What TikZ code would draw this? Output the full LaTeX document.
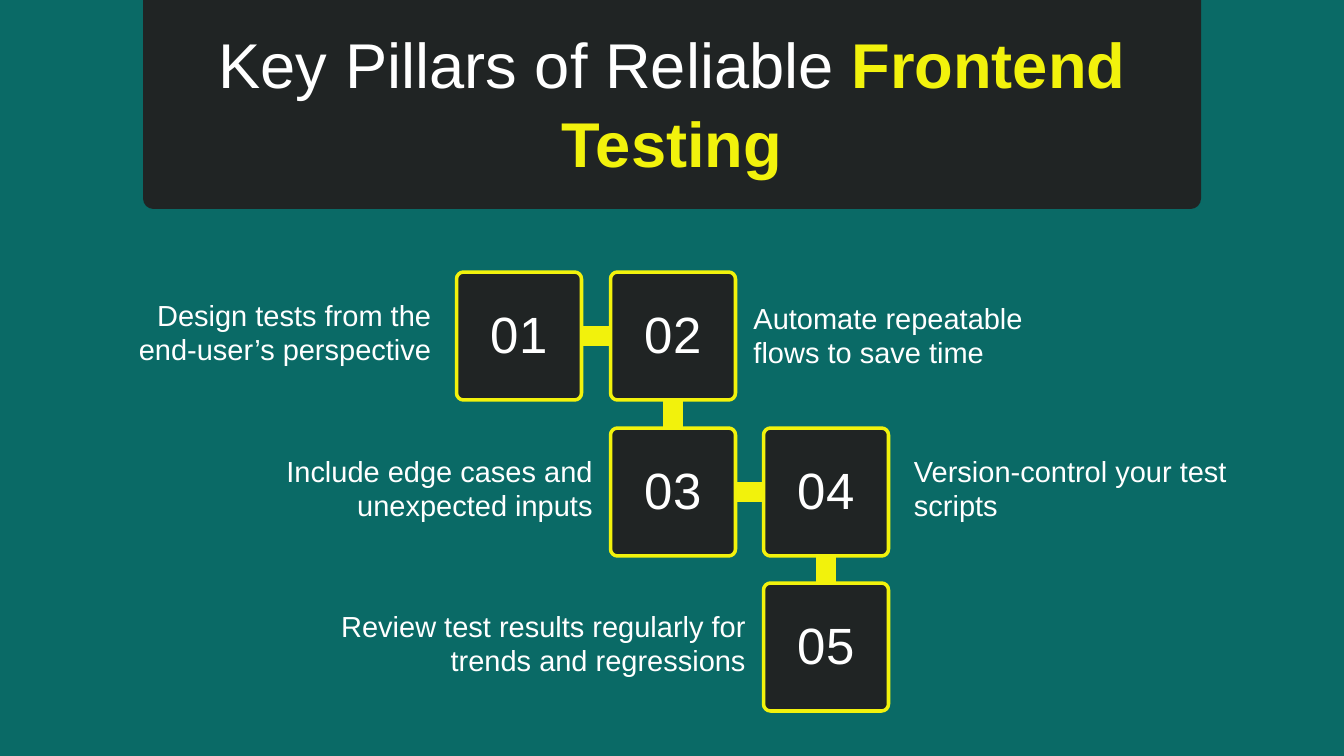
\documentclass[tikz,border=0pt]{standalone}
\usepackage{fontspec}
\setmainfont{Liberation Sans}
\usepackage{xcolor}
\usetikzlibrary{positioning,calc}
\definecolor{teal_bg}{HTML}{0A6A66}
\definecolor{dark_box}{HTML}{202424}
\definecolor{pillar_yellow}{HTML}{F2F20C}

\begin{document}
\begin{tikzpicture}[
    x=0.02cm, y=-0.02cm,
    step_box/.style={rectangle, draw=pillar_yellow, fill=dark_box, line width=2pt, rounded corners=4pt, minimum width=2.5cm, minimum height=2.56cm, font=\fontsize{29}{32}\selectfont, text=white},
    link_bar/.style={draw=pillar_yellow, line width=0.4cm},
    left_text/.style={anchor=east, align=right, text=white, font=\fontsize{16.5}{19}\selectfont},
    right_text/.style={anchor=west, align=left, text=white, font=\fontsize{16.5}{19}\selectfont}
]

% Background
\fill[teal_bg] (0,0) rectangle (1344,756);
\useasboundingbox (0,0) rectangle (1344,756);

% Title
\fill[dark_box, rounded corners=6pt] (143,-20) rectangle (1201,209);
\node[text=white, font=\fontsize{36}{45}\selectfont, align=center] (title) at (672,112)
    {Key Pillars of Reliable \textcolor{pillar_yellow}{\bfseries Frontend}\\\textcolor{pillar_yellow}{\bfseries Testing}};

% Connectors (behind boxes)
\coordinate (c1) at (519,336);
\coordinate (c2) at (673,336);
\coordinate (c3) at (673,492);
\coordinate (c4) at (826,492);
\coordinate (c5) at (826,647);
\draw[link_bar] (c1) -- (c2) -- (c3) -- (c4) -- (c5);

% Steps
\node[step_box] (step1) at (c1) {01};
\node[step_box] (step2) at (c2) {02};
\node[step_box] (step3) at (c3) {03};
\node[step_box] (step4) at (c4) {04};
\node[step_box] (step5) at (c5) {05};

% Labels
\node[left_text, left=0.35cm of step1] (text1) {Design tests from the\\end-user's perspective};
\node[right_text, right=0.2cm of step2] (text2) {Automate repeatable\\flows to save time};
\node[left_text, left=0.2cm of step3] (text3) {Include edge cases and\\unexpected inputs};
\node[right_text, right=0.35cm of step4] (text4) {Version-control your test\\scripts};
\node[left_text, left=0.2cm of step5] (text5) {Review test results regularly for\\trends and regressions};

\end{tikzpicture}
\end{document}
